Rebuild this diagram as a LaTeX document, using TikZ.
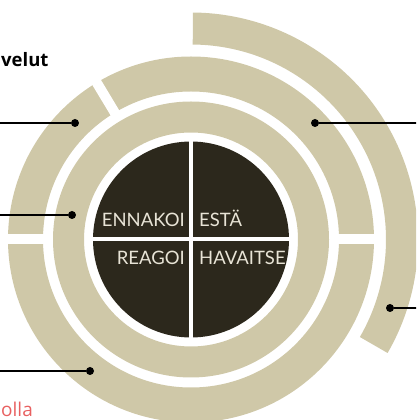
\documentclass[tikz,border=0pt]{standalone}
\usepackage{fontspec}
\setmainfont{Open Sans}
\newfontfamily\quadfont{Lato}
\usetikzlibrary{calc}
\definecolor{sand}{RGB}{207,200,168}
\definecolor{soil}{RGB}{44,40,28}
\definecolor{chalk}{RGB}{232,228,214}
\definecolor{coral}{RGB}{232,96,96}
\def\ringsector[#1](#2)(#3:#4:#5:#6){\fill[#1] ($(#2)+(#3:#6)$) arc (#3:#4:#6) -- ($(#2)+(#4:#5)$) arc (#4:#3:#5) -- cycle;}
\tikzset{
	gapline/.style={line width=10pt, white},
	cutline/.style={line width=4pt, white},
	dot/.style={circle, fill=black, inner sep=0pt, minimum size=8pt},
	lead/.style={line width=1.8pt, black},
	quadlabel/.style={font=\quadfont\fontsize{18.5}{20}\selectfont, text=chalk, inner sep=0pt},
}

\begin{document}
\begin{tikzpicture}[x=1pt, y=1pt]
		%%%%% START %%%%%
		\useasboundingbox (0, 0) rectangle (416, 420);
		\clip (0, 0) rectangle (416, 420);
		\coordinate (c) at (191, 180.5);
		
		\fill[soil] (c) circle (98);
		\draw[cutline] ($(c)+(-100, 0)$) -- ($(c)+(100, 0)$);
		\draw[cutline] ($(c)+(0, -100)$) -- ($(c)+(0, 100)$);
		
		\fill[sand, even odd rule] (c) circle (138) (c) circle (107);
		\fill[sand, even odd rule] (c) circle (183) (c) circle (148);
		\ringsector[sand](c)(-30:89.5:195:227)
		
		\draw[gapline] ($(c)+(-186, 0)$) -- ($(c)+(-145, 0)$);
		\draw[gapline] ($(c)+(145, 0)$) -- ($(c)+(186, 0)$);
		\draw[gapline] ($(c)+(121:145)$) -- ($(c)+(121:186)$);
		
		\node[quadlabel, anchor=base east] (ennakoi) at (185, 193) {ENNAKOI};
		\node[quadlabel, anchor=base west] (esta) at (199, 193) {ESTÄ};
		\node[quadlabel, anchor=base east] (reagoi) at (185, 155) {REAGOI};
		\node[quadlabel, anchor=base west] (havaitse) at (199, 155) {HAVAITSE};
		
		\node[dot] (inner) at (72, 205) {};
		\coordinate (innerend) at (-2, 205);
		\draw[lead] (inner) -- (innerend);
		
		\node[dot] (midleft) at (75, 297) {};
		\coordinate (midleftend) at (-2, 297);
		\draw[lead] (midleft) -- (midleftend);
		
		\node[dot] (midtop) at (315, 297) {};
		\coordinate (midtopend) at (418, 297);
		\draw[lead] (midtop) -- (midtopend);
		
		\node[dot] (midlow) at (90, 49) {};
		\coordinate (midlowend) at (-2, 49);
		\draw[lead] (midlow) -- (midlowend);
		
		\node[dot] (outer) at (390, 112) {};
		\coordinate (outerend) at (418, 112);
		\draw[lead] (outer) -- (outerend);
		
		\node[anchor=base west, inner sep=0pt, font=\bfseries\fontsize{18.5}{20}\selectfont] (velut) at (1, 353) {velut};
		\node[anchor=base west, inner sep=0pt, text=coral, font=\fontsize{19}{20}\selectfont] (olla) at (1, 4) {olla};
		%%%%% END %%%%%
\end{tikzpicture}
\end{document}
